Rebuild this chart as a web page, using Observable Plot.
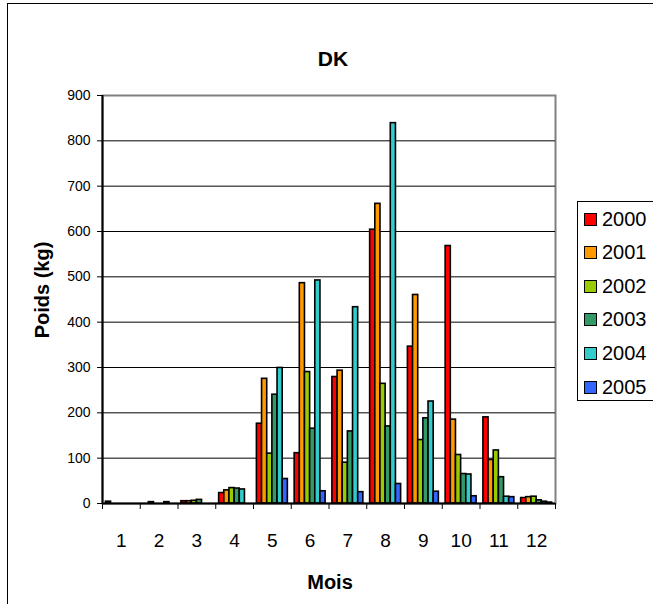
<!DOCTYPE html>
<html>
<head>
<meta charset="utf-8">
<script src="https://cdn.jsdelivr.net/npm/d3@7"></script>
<script src="https://cdn.jsdelivr.net/npm/@observablehq/plot@0.6"></script>
<style>
  html, body { margin: 0; padding: 0; background: #fff; }
  body { font-family: "Liberation Sans", Arial, sans-serif; }
  #wrap { position: relative; width: 653px; height: 604px; overflow: hidden; background: #fff; }
  #border { position: absolute; left: 7px; top: 3px; width: 800px; height: 800px; border: 1.5px solid #000; box-sizing: border-box; }
  #chart { position: absolute; left: 0; top: 0; }
  .lbl { position: absolute; color: #000; white-space: nowrap; font-weight: bold; font-size: 20px; line-height: 1; }
  #title { left: 333px; top: 58px; transform: translate(-50%, -50%); font-size: 21px; }
  #xlab { left: 330px; top: 582px; transform: translate(-50%, -50%); }
  #ylab { left: 42px; top: 290px; transform: translate(-50%, -50%) rotate(-90deg); }
  #legend { position: absolute; left: 577px; top: 201px; width: 120px; height: 200px; border: 1px solid #000; box-sizing: border-box; background: #fff; }
  .row { position: absolute; left: 6px; display: flex; align-items: center; height: 24px; font-size: 20px; color: #000; }
  .sw { width: 11px; height: 11px; border: 1.5px solid #000; margin-right: 5px; }
</style>
</head>
<body>
<div id="wrap">
  <div id="border"></div>
  <div id="chart"></div>
  <div id="title" class="lbl">DK</div>
  <div id="xlab" class="lbl">Mois</div>
  <div id="ylab" class="lbl">Poids (kg)</div>
  <div id="legend"></div>
</div>
<script>
// ---- data ----
const months = [1, 2, 3, 4, 5, 6, 7, 8, 9, 10, 11, 12];
const years = ["2000", "2001", "2002", "2003", "2004", "2005"];
const colors = ["#FF0000", "#FF9900", "#99CC00", "#339966", "#33CCCC", "#3366FF"];
const v2000 = [4, 0, 5, 23, 176, 111, 279, 604, 346, 568, 190, 12];
const v2001 = [0, 3, 5, 29, 275, 486, 293, 661, 460, 185, 96, 14];
const v2002 = [0, 0, 6, 34, 110, 290, 90, 264, 140, 107, 117, 15];
const v2003 = [0, 0, 8, 33, 240, 165, 159, 170, 188, 65, 58, 7];
const v2004 = [0, 3, 0, 31, 299, 492, 433, 839, 225, 64, 15, 4];
const v2005 = [0, 0, 0, 0, 54, 27, 25, 43, 26, 16, 14, 2];
const yTicks = [0, 100, 200, 300, 400, 500, 600, 700, 800, 900];

const series = [v2000, v2001, v2002, v2003, v2004, v2005];
const rows = [];
years.forEach((yr, i) => series[i].forEach((v, j) => {
  if (v > 0) rows.push({month: months[j], year: yr, i, value: v});
}));
const bounds = [0.5, ...months.map(m => m + 0.5)];
const GROUP = 0.82, OFF = 0.09, W = GROUP / years.length;

const chart = Plot.plot({
  width: 653,
  height: 604,
  marginLeft: 102,
  marginRight: 98,
  marginTop: 95,
  marginBottom: 101,
  style: {fontFamily: "'Liberation Sans', Arial, sans-serif", background: "transparent", color: "#000"},
  x: {domain: [0.5, 12.5], axis: null},
  y: {domain: [0, 900], axis: null},
  color: {domain: years, range: colors},
  marks: [
    Plot.frame({stroke: "#808080", strokeWidth: 2}),
    Plot.ruleY(yTicks.filter(d => d > 0 && d < 900), {stroke: "#000", strokeWidth: 1}),
    Plot.rectY(rows, {
      x1: d => d.month - 0.5 + OFF + d.i * W,
      x2: d => d.month - 0.5 + OFF + (d.i + 1) * W,
      y: "value",
      fill: "year",
      stroke: "#000",
      strokeWidth: 1.6
    }),
    Plot.ruleX([0.5], {stroke: "#000", strokeWidth: 2}),
    Plot.ruleY([0], {stroke: "#000", strokeWidth: 2}),
    Plot.axisY(yTicks, {anchor: "left", tickSize: 5, tickPadding: 7, fontSize: 14, label: null, stroke: "#000", fill: "#000"}),
    Plot.axisX(bounds, {anchor: "bottom", tickSize: 6, tickFormat: () => "", label: null, stroke: "#000"}),
    Plot.axisX(months, {anchor: "bottom", tickSize: 0, tickPadding: 30, fontSize: 19, label: null, fill: "#000"})
  ]
});
document.getElementById("chart").appendChild(chart);

// legend
const leg = document.getElementById("legend");
years.forEach((yr, i) => {
  const r = document.createElement("div");
  r.className = "row";
  r.style.top = (17 + i * 33.6 - 12) + "px";
  const sw = document.createElement("div");
  sw.className = "sw";
  sw.style.background = colors[i];
  const t = document.createElement("span");
  t.textContent = yr;
  r.appendChild(sw);
  r.appendChild(t);
  leg.appendChild(r);
});
</script>
</body>
</html>
